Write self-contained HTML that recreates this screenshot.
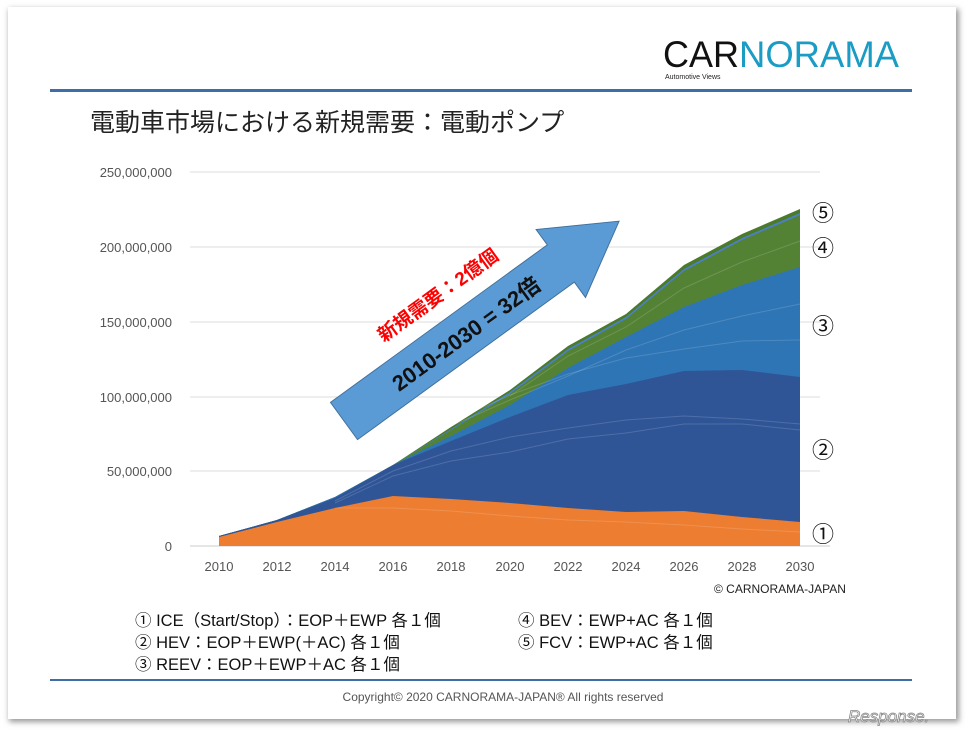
<!DOCTYPE html><html><head><meta charset="utf-8"><style>
body{margin:0;width:968px;height:735px;background:#fff;overflow:hidden;font-family:"Liberation Sans","Noto Sans CJK JP",sans-serif}
</style></head><body>
<svg width="968" height="735" viewBox="0 0 968 735" xmlns="http://www.w3.org/2000/svg" font-family="Liberation Sans, Noto Sans CJK JP, sans-serif">
<defs><filter id="sh" x="-5%" y="-5%" width="110%" height="110%"><feGaussianBlur stdDeviation="3"/></filter></defs>
<rect x="9" y="9" width="950" height="713" fill="#999" filter="url(#sh)"/>
<rect x="8" y="7" width="948" height="712" fill="#fff"/>
<text x="663" y="67" font-size="37" fill="#111" font-family="Liberation Sans Narrow, Liberation Sans, sans-serif" textLength="76" lengthAdjust="spacingAndGlyphs">CAR</text>
<text x="739" y="67" font-size="37" fill="#1a9cc4" font-family="Liberation Sans Narrow, Liberation Sans, sans-serif" textLength="160" lengthAdjust="spacingAndGlyphs">NORAMA</text>
<text x="665" y="79" font-size="7" fill="#222">Automotive Views</text>
<rect x="50" y="89" width="862" height="3" fill="#3d6ea8"/>
<text x="90" y="131" font-size="25" fill="#222">電動車市場における新規需要：電動ポンプ</text>
<g stroke="#ddd" stroke-width="1">
<line x1="190" y1="172" x2="820" y2="172"/><line x1="190" y1="247" x2="820" y2="247"/><line x1="190" y1="322" x2="820" y2="322"/><line x1="190" y1="397" x2="820" y2="397"/><line x1="190" y1="471" x2="820" y2="471"/><line x1="190" y1="546" x2="830" y2="546" stroke="#ccc"/>
</g>
<g font-size="13" fill="#555" text-anchor="end">
<text x="172" y="177">250,000,000</text><text x="172" y="252">200,000,000</text><text x="172" y="327">150,000,000</text><text x="172" y="402">100,000,000</text><text x="172" y="476">50,000,000</text><text x="172" y="551">0</text>
</g>
<g font-size="13" fill="#555" text-anchor="middle">
<text x="219" y="571">2010</text><text x="277" y="571">2012</text><text x="335" y="571">2014</text><text x="393" y="571">2016</text><text x="451" y="571">2018</text><text x="510" y="571">2020</text><text x="568" y="571">2022</text><text x="626" y="571">2024</text><text x="684" y="571">2026</text><text x="742" y="571">2028</text><text x="800" y="571">2030</text>
</g>
<path d="M219,536 L277,520 L335,497 L393,465 L451,427 L510,390 L568,346 L626,314 L684,265 L742,234 L800,209 L800,546 L219,546Z" fill="#4a7a2a"/>
<path d="M219,536 L277,520 L335,497 L393,465 L451,429 L510,392 L568,349 L626,317 L684,269 L742,238 L800,213 L800,546 L219,546Z" fill="#4a80c8"/>
<path d="M219,536 L277,520 L335,497 L393,465 L451,430 L510,394 L568,351 L626,319 L684,271 L742,240 L800,215 L800,546 L219,546Z" fill="#548235"/>
<path d="M219,536 L277,520 L335,497 L393,465 L451,436 L510,405 L568,368 L626,337 L684,307 L742,285 L800,267 L800,546 L219,546Z" fill="#2e75b6"/>
<path d="M219,536 L277,520 L335,498 L393,465 L451,441 L510,417 L568,395 L626,384 L684,371 L742,370 L800,377 L800,546 L219,546Z" fill="#2f5597"/>
<path d="M219,537 L277,522 L335,508 L393,496 L451,499 L510,503 L568,508 L626,512 L684,511 L742,517 L800,522 L800,546 L219,546Z" fill="#ed7d31"/>
<g fill="none" stroke="#ffffff" stroke-opacity="0.15" stroke-width="1">
<path d="M335,503 L393,476 L451,461 L510,452 L568,439 L626,433 L684,424 L742,424 L800,430"/>
<path d="M335,501 L393,471 L451,451 L510,437 L568,428 L626,420 L684,416 L742,419 L800,424"/>
<path d="M393,449 L451,422 L510,395 L568,374 L626,358 L684,349 L742,341 L800,340"/>
<path d="M393,455 L451,426 L510,400 L568,376 L626,350 L684,330 L742,316 L800,304"/>
<path d="M510,396 L568,356 L626,327 L684,288 L742,262 L800,241"/>
<path d="M335,508 L393,508 L451,511 L510,516 L568,520 L626,522 L684,525 L742,529 L800,532"/>
</g>
<g transform="translate(344,421) rotate(-36)">
<polygon points="0,-23 268,-23 268,-42 340,0 268,42 268,23 0,23" fill="#5b9bd5" stroke="#41719c" stroke-width="1"/>
<text x="150" y="9" font-size="22" font-weight="bold" fill="#111" text-anchor="middle">2010-2030 = 32倍</text>
<text x="150" y="-40" font-size="19" font-weight="bold" fill="#ff0000" text-anchor="middle">新規需要：2億個</text>
</g>
<g font-size="22" fill="#111" text-anchor="middle">
<text x="823" y="221">⑤</text><text x="823" y="256">④</text><text x="823" y="334">③</text><text x="823" y="458">②</text><text x="823" y="542">①</text>
</g>
<text x="714" y="593" font-size="12" fill="#222">© CARNORAMA-JAPAN</text>
<g font-size="16.5" fill="#111">
<text x="135" y="626">① ICE（Start/Stop）：EOP＋EWP  各１個</text>
<text x="135" y="648">② HEV：EOP＋EWP(＋AC)  各１個</text>
<text x="135" y="670">③ REEV：EOP＋EWP＋AC  各１個</text>
<text x="518" y="626">④ BEV：EWP+AC  各１個</text>
<text x="518" y="648">⑤ FCV：EWP+AC  各１個</text>
</g>
<rect x="50" y="679" width="862" height="2" fill="#3d6ea8"/>
<text x="503" y="701" font-size="12" fill="#555" text-anchor="middle">Copyright© 2020 CARNORAMA-JAPAN® All rights reserved</text>
<text x="848" y="722" font-size="17" fill="#fff" stroke="#888" stroke-width="0.8" font-style="italic">Response.</text>
</svg>
</body></html>
